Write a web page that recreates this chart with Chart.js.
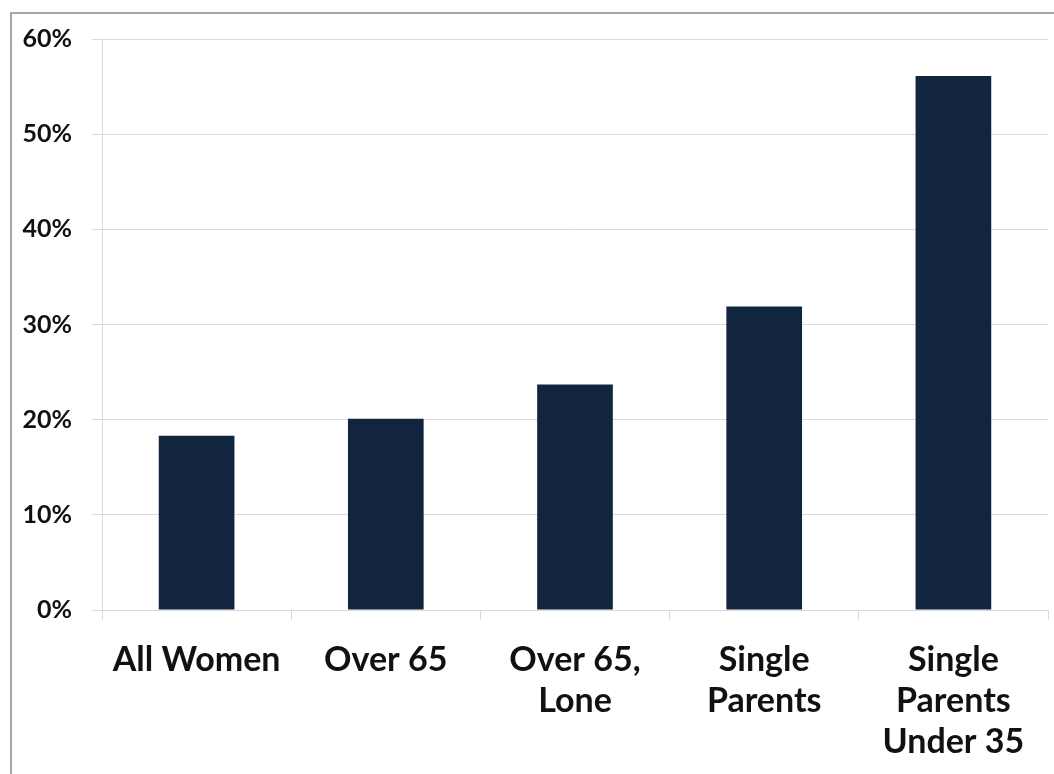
<!DOCTYPE html>
<html>
<head>
<meta charset="utf-8">
<script src="https://cdn.jsdelivr.net/npm/chart.js@4/dist/chart.umd.min.js"></script>
<style>
  body { margin: 0; background: #fff; }
  #frame {
    position: absolute; left: 0; top: 0; width: 1054px; height: 774px;
  }
  #edge {
    position: absolute; left: 10px; top: 12px; width: 1050px; height: 770px;
    border-left: 2px solid #a6a6a6; border-top: 2px solid #a6a6a6;
  }
  canvas { position: absolute; left: 0; top: 0; }
</style>
</head>
<body>
<div id="frame">
  <div id="edge"></div>
  <canvas id="canvas" width="1054" height="774"></canvas>
</div>
<script>
const labels = [
    'All Women',
    'Over 65',
    ['Over 65,', 'Lone'],
    ['Single', 'Parents'],
    ['Single', 'Parents', 'Under 35']
];
const values = [18.3, 20.1, 23.7, 31.9, 56.1];
const yTicks = [0, 10, 20, 30, 40, 50, 60];

const barColor = '#12253f';
const gridColor = '#d9d9d9';

const data = {
    labels: labels,
    datasets: [{
        data: values,
        backgroundColor: barColor,
        borderWidth: 0,
        barPercentage: 0.4,
        categoryPercentage: 1
    }]
};

const config = {
    type: 'bar',
    data: data,
    options: {
        responsive: false,
        animation: false,
        layout: { padding: { top: 39, right: 6, left: 0, bottom: 0 } },
        plugins: {
            legend: { display: false },
            tooltip: { enabled: false }
        },
        scales: {
            x: {
                grid: {
                    offset: true,
                    drawOnChartArea: false,
                    drawTicks: true,
                    tickLength: 10,
                    color: gridColor
                },
                border: { color: gridColor, width: 1 },
                ticks: {
                    color: '#111',
                    padding: 20,
                    maxRotation: 0,
                    autoSkip: false,
                    font: { family: 'Lato', weight: 'bold', size: 34, lineHeight: 1.2 }
                },
                afterFit: s => { s.height = 164; }
            },
            y: {
                min: 0,
                max: 60,
                afterBuildTicks: s => { s.ticks = yTicks.map(v => ({ value: v })); },
                grid: {
                    color: gridColor,
                    tickLength: 10
                },
                border: { color: gridColor, width: 1 },
                ticks: {
                    color: '#111',
                    padding: 20,
                    font: { family: 'Lato', weight: 'bold', size: 25 },
                    callback: v => v + '%'
                },
                afterFit: s => { s.width = 102; }
            }
        }
    }
};

const chart = new Chart(document.getElementById('canvas'), config);
</script>
</body>
</html>
